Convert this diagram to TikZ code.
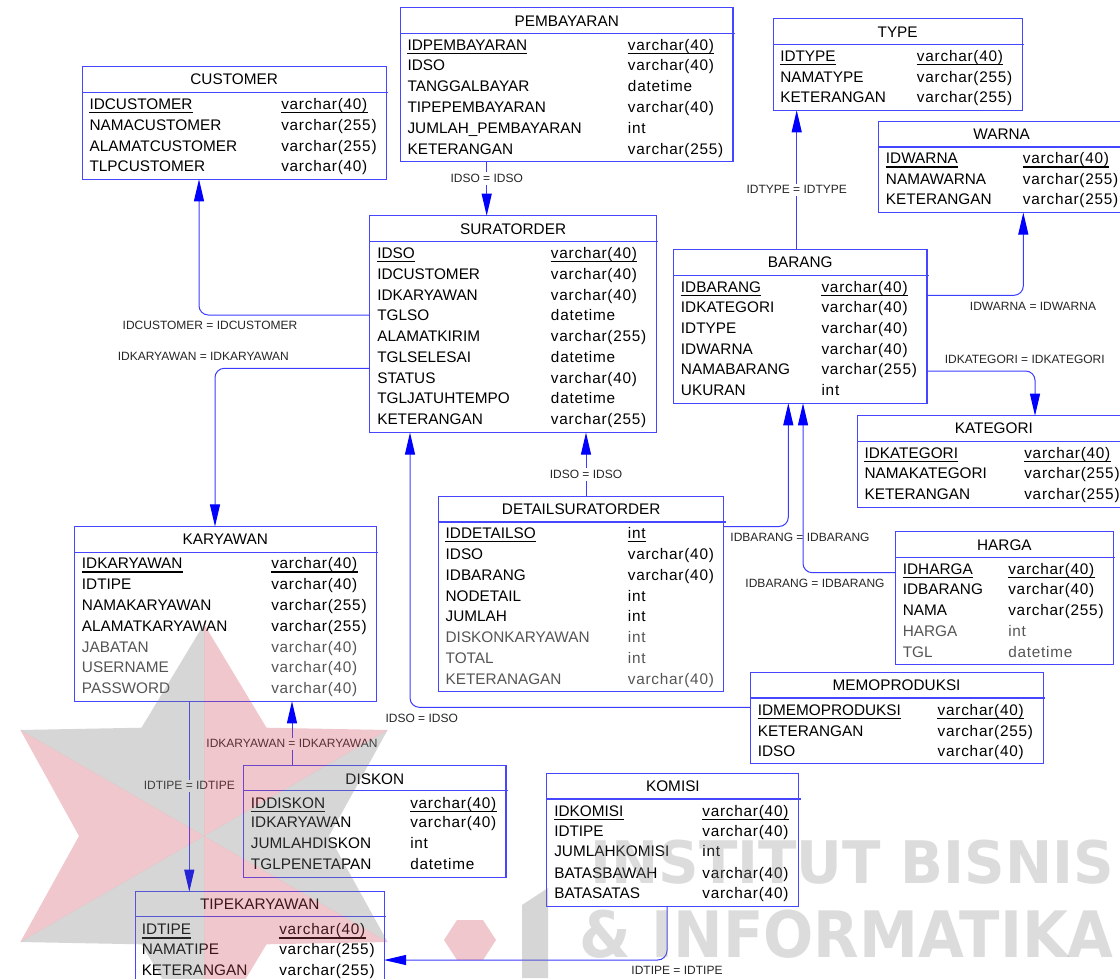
\documentclass[tikz,border=0pt]{standalone}
\usepackage{fontspec}
\setmainfont{Liberation Sans}
\newfontfamily\typefont[LetterSpace=5]{Liberation Sans}
\newfontfamily\wmfont{DejaVu Sans}
\usetikzlibrary{arrows.meta,fit}
\definecolor{lineblue}{RGB}{60,60,255}
\definecolor{boxblue}{RGB}{70,70,255}
\definecolor{arrblue}{RGB}{0,0,255}
\definecolor{rowgray}{RGB}{85,85,85}
\definecolor{wmpink}{RGB}{205,72,88}
\definecolor{wmgray}{RGB}{122,122,122}
\definecolor{wmtext}{RGB}{140,140,140}
\tikzset{
  tbox/.style={inner sep=0pt},
  hline/.style={draw=boxblue, line width=0.8pt},
  nm/.style={anchor=base west, inner sep=0pt, font=\fontsize{11.5}{12}\selectfont},
  ty/.style={anchor=base west, inner sep=0pt, font=\fontsize{11.5}{12}\selectfont\typefont},
  ttl/.style={anchor=base, inner sep=0pt, font=\fontsize{11.5}{12}\selectfont},
  lbl/.style={inner sep=1.5pt, font=\fontsize{9}{10}\selectfont, text=black!85},
  lblw/.style={lbl, fill=white},
  rel/.style={draw=lineblue, line width=0.75pt, rounded corners=7pt,
    -{Triangle[length=16.5pt,width=7.5pt,color=arrblue]}},
  ul/.style={line width=0.9pt, black},
  wm/.style={inner sep=0pt, font=\wmfont\bfseries\fontsize{44}{44}\selectfont, text=wmtext}
}
\newcommand{\ertbl}[8]{%
  \node[tbox, fit={(#2,#3) (#4,#5)}] (#1) {};
  \draw[hline] (#1.north west) rectangle (#1.south east);
  \draw[hline] (#2,#6) -- (#4+2,#6);
  \node[ttl] (#1-ttl) at ({(#2+#4)/2},#7+5.5) {#8};}
\newcommand{\ertrow}[6][black]{%
  \node[nm,text=#1] (#2-n#3) at (\colN,#4+5.5) {#5};
  \node[ty,text=#1] (#2-t#3) at (\colT,#4+5.5) {#6};}
\newcommand{\ertpk}[1]{%
  \draw[ul] ([yshift=-2.4pt]#1-n1.base west) -- ([yshift=-2.4pt]#1-n1.base east);
  \draw[ul] ([yshift=-2.4pt]#1-t1.base west) -- ([yshift=-2.4pt]#1-t1.base east);}
\begin{document}
\begin{tikzpicture}[x=0.75pt,y=-0.75pt]
\clip (0,0) rectangle (1120,978);
\fill[white] (0,0) rectangle (1120,978);

% CUSTOMER
\ertbl{customer}{82.3}{67}{386}{179}{92.3}{79.3}{CUSTOMER}
\def\colN{89.3}\def\colT{281}
\ertrow{customer}{1}{104}{IDCUSTOMER}{varchar(40)}
\ertrow{customer}{2}{124.7}{NAMACUSTOMER}{varchar(255)}
\ertrow{customer}{3}{145.7}{ALAMATCUSTOMER}{varchar(255)}
\ertrow{customer}{4}{166.3}{TLPCUSTOMER}{varchar(40)}
\ertpk{customer}

% PEMBAYARAN
\ertbl{pembayaran}{400.7}{7.7}{732.7}{161.3}{33.3}{20.7}{PEMBAYARAN}
\def\colN{407.3}\def\colT{627.7}
\ertrow{pembayaran}{1}{44.7}{IDPEMBAYARAN}{varchar(40)}
\ertrow{pembayaran}{2}{65.3}{IDSO}{varchar(40)}
\ertrow{pembayaran}{3}{85.7}{TANGGALBAYAR}{datetime}
\ertrow{pembayaran}{4}{106.7}{TIPEPEMBAYARAN}{varchar(40)}
\ertrow{pembayaran}{5}{127.7}{JUMLAH\_PEMBAYARAN}{int}
\ertrow{pembayaran}{6}{148.7}{KETERANGAN}{varchar(255)}
\ertpk{pembayaran}

% SURATORDER
\ertbl{suratorder}{370}{216}{656.3}{432.3}{241.3}{228.7}{SURATORDER}
\def\colN{377}\def\colT{550.7}
\ertrow{suratorder}{1}{252.7}{IDSO}{varchar(40)}
\ertrow{suratorder}{2}{273.7}{IDCUSTOMER}{varchar(40)}
\ertrow{suratorder}{3}{294.7}{IDKARYAWAN}{varchar(40)}
\ertrow{suratorder}{4}{315.3}{TGLSO}{datetime}
\ertrow{suratorder}{5}{335.7}{ALAMATKIRIM}{varchar(255)}
\ertrow{suratorder}{6}{356.7}{TGLSELESAI}{datetime}
\ertrow{suratorder}{7}{377.7}{STATUS}{varchar(40)}
\ertrow{suratorder}{8}{398.3}{TGLJATUHTEMPO}{datetime}
\ertrow{suratorder}{9}{419.3}{KETERANGAN}{varchar(255)}
\ertpk{suratorder}

% TYPE
\ertbl{type}{773.3}{19}{1022}{110}{44.3}{31.7}{TYPE}
\def\colN{780}\def\colT{916.7}
\ertrow{type}{1}{55.7}{IDTYPE}{varchar(40)}
\ertrow{type}{2}{76.7}{NAMATYPE}{varchar(255)}
\ertrow{type}{3}{97.3}{KETERANGAN}{varchar(255)}
\ertpk{type}

% WARNA
\ertbl{warna}{878.3}{121.7}{1125}{212.3}{147}{134.3}{WARNA}
\def\colN{885.7}\def\colT{1022.7}
\ertrow{warna}{1}{158.3}{IDWARNA}{varchar(40)}
\ertrow{warna}{2}{178.7}{NAMAWARNA}{varchar(255)}
\ertrow{warna}{3}{199.3}{KETERANGAN}{varchar(255)}
\ertpk{warna}

% BARANG
\ertbl{barang}{673.7}{249.3}{926.7}{403}{275.3}{262.3}{BARANG}
\def\colN{680.7}\def\colT{821.3}
\ertrow{barang}{1}{286.7}{IDBARANG}{varchar(40)}
\ertrow{barang}{2}{307.3}{IDKATEGORI}{varchar(40)}
\ertrow{barang}{3}{327.7}{IDTYPE}{varchar(40)}
\ertrow{barang}{4}{348.7}{IDWARNA}{varchar(40)}
\ertrow{barang}{5}{369.3}{NAMABARANG}{varchar(255)}
\ertrow{barang}{6}{390.3}{UKURAN}{int}
\ertpk{barang}

% KATEGORI
\ertbl{kategori}{857.7}{416}{1130}{507.3}{441.7}{428.3}{KATEGORI}
\def\colN{864.3}\def\colT{1024}
\ertrow{kategori}{1}{452.7}{IDKATEGORI}{varchar(40)}
\ertrow{kategori}{2}{473.3}{NAMAKATEGORI}{varchar(255)}
\ertrow{kategori}{3}{494}{KETERANGAN}{varchar(255)}
\ertpk{kategori}

% DETAILSURATORDER
\ertbl{detail}{438.8}{496.7}{723.6}{691.3}{522}{508.7}{DETAILSURATORDER}
\def\colN{445.4}\def\colT{627.6}
\ertrow{detail}{1}{532.7}{IDDETAILSO}{int}
\ertrow{detail}{2}{553.7}{IDSO}{varchar(40)}
\ertrow{detail}{3}{574.7}{IDBARANG}{varchar(40)}
\ertrow{detail}{4}{595.7}{NODETAIL}{int}
\ertrow{detail}{5}{616.3}{JUMLAH}{int}
\ertrow[rowgray]{detail}{6}{636.7}{DISKONKARYAWAN}{int}
\ertrow[rowgray]{detail}{7}{657.7}{TOTAL}{int}
\ertrow[rowgray]{detail}{8}{678.7}{KETERANAGAN}{varchar(40)}
\ertpk{detail}

% HARGA
\ertbl{harga}{895.9}{531.7}{1112.9}{664}{557.3}{544.7}{HARGA}
\def\colN{902.6}\def\colT{1008}
\ertrow{harga}{1}{569}{IDHARGA}{varchar(40)}
\ertrow{harga}{2}{589}{IDBARANG}{varchar(40)}
\ertrow{harga}{3}{609.7}{NAMA}{varchar(255)}
\ertrow[rowgray]{harga}{4}{630.7}{HARGA}{int}
\ertrow[rowgray]{harga}{5}{651.7}{TGL}{datetime}
\ertpk{harga}

% MEMOPRODUKSI
\ertbl{memo}{750.4}{672.3}{1042.8}{763.3}{698}{685.3}{MEMOPRODUKSI}
\def\colN{757.5}\def\colT{937.4}
\ertrow{memo}{1}{710}{IDMEMOPRODUKSI}{varchar(40)}
\ertrow{memo}{2}{730.7}{KETERANGAN}{varchar(255)}
\ertrow{memo}{3}{750.7}{IDSO}{varchar(40)}
\ertpk{memo}

% KOMISI
\ertbl{komisi}{547.2}{773.3}{798.6}{906}{799}{786.3}{KOMISI}
\def\colN{554}\def\colT{702.1}
\ertrow{komisi}{1}{810.7}{IDKOMISI}{varchar(40)}
\ertrow{komisi}{2}{830.7}{IDTIPE}{varchar(40)}
\ertrow{komisi}{3}{851.3}{JUMLAHKOMISI}{int}
\ertrow{komisi}{4}{872.7}{BATASBAWAH}{varchar(40)}
\ertrow{komisi}{5}{893.3}{BATASATAS}{varchar(40)}
\ertpk{komisi}

% KARYAWAN
\ertbl{karyawan}{74.3}{526.7}{376.3}{701}{552.3}{539.3}{KARYAWAN}
\def\colN{81.7}\def\colT{271}
\ertrow{karyawan}{1}{563.3}{IDKARYAWAN}{varchar(40)}
\ertrow{karyawan}{2}{584.3}{IDTIPE}{varchar(40)}
\ertrow{karyawan}{3}{604.7}{NAMAKARYAWAN}{varchar(255)}
\ertrow{karyawan}{4}{625.7}{ALAMATKARYAWAN}{varchar(255)}
\ertrow[rowgray]{karyawan}{5}{646.7}{JABATAN}{varchar(40)}
\ertrow[rowgray]{karyawan}{6}{667.3}{USERNAME}{varchar(40)}
\ertrow[rowgray]{karyawan}{7}{688.3}{PASSWORD}{varchar(40)}
\ertpk{karyawan}

% DISKON
\ertbl{diskon}{244}{765.7}{505.7}{877.3}{790.7}{778.7}{DISKON}
\def\colN{250.7}\def\colT{410}
\ertrow{diskon}{1}{802.7}{IDDISKON}{varchar(40)}
\ertrow{diskon}{2}{822.3}{IDKARYAWAN}{varchar(40)}
\ertrow{diskon}{3}{843.3}{JUMLAHDISKON}{int}
\ertrow{diskon}{4}{864.3}{TGLPENETAPAN}{datetime}
\ertpk{diskon}

% TIPEKARYAWAN
\ertbl{tipekaryawan}{135.6}{892}{383.8}{992}{916.7}{904.3}{TIPEKARYAWAN}
\def\colN{141.5}\def\colT{279}
\ertrow{tipekaryawan}{1}{929.3}{IDTIPE}{varchar(40)}
\ertrow{tipekaryawan}{2}{949.3}{NAMATIPE}{varchar(255)}
\ertrow{tipekaryawan}{3}{970}{KETERANGAN}{varchar(255)}
\ertpk{tipekaryawan}

% ---------- connectors ----------
\coordinate (c1) at (486.7,0);
\draw[rel] (pembayaran.south -| c1) -- (suratorder.north -| c1);
\node[lblw] (l1) at (486.7,178.7) {IDSO = IDSO};

\coordinate (c2) at (199,315);
\draw[rel] (suratorder.west |- c2) -- (c2) -- (customer.south -| c2);
\node[lbl] (l2) at (210,325.7) {IDCUSTOMER = IDCUSTOMER};

\coordinate (c3) at (215,368.3);
\draw[rel] (suratorder.west |- c3) -- (c3) -- (karyawan.north -| c3);
\node[lbl] (l3) at (203.3,356.7) {IDKARYAWAN = IDKARYAWAN};

\coordinate (c4) at (796.7,0);
\draw[rel] (barang.north -| c4) -- (type.south -| c4);
\node[lblw] (l4) at (796.7,189.7) {IDTYPE = IDTYPE};

\coordinate (c5) at (1023.3,295.3);
\draw[rel] (barang.east |- c5) -- (c5) -- (warna.south -| c5);
\node[lbl] (l5) at (1033,306.3) {IDWARNA = IDWARNA};

\coordinate (c6) at (1035,371);
\draw[rel] (barang.east |- c6) -- (c6) -- (kategori.north -| c6);
\node[lbl] (l6) at (1024.7,359.3) {IDKATEGORI = IDKATEGORI};

\coordinate (c7) at (586,0);
\draw[rel] (detail.north -| c7) -- (suratorder.south -| c7);
\node[lblw] (l7) at (586,474.3) {IDSO = IDSO};

\coordinate (c8) at (788.3,526.5);
\draw[rel] (detail.east |- c8) -- (c8) -- (barang.south -| c8);
\node[lbl] (l8) at (800,537.3) {IDBARANG = IDBARANG};

\coordinate (c9) at (803,572.7);
\draw[rel] (harga.west |- c9) -- (c9) -- (barang.south -| c9);
\node[lbl] (l9) at (815,583.3) {IDBARANG = IDBARANG};

\coordinate (c10) at (410,707.3);
\draw[rel] (memo.west |- c10) -- (c10) -- (suratorder.south -| c10);
\node[lbl] (l10) at (421.7,718.3) {IDSO = IDSO};

\coordinate (c11) at (292,0);
\draw[rel] (diskon.north -| c11) -- (karyawan.south -| c11);
\node[lblw] (l11) at (292,743.7) {IDKARYAWAN = IDKARYAWAN};

\coordinate (c12) at (189.3,0);
\draw[rel] (karyawan.south -| c12) -- (tipekaryawan.north -| c12);
\node[lblw] (l12) at (189.3,785.7) {IDTIPE = IDTIPE};

\coordinate (c13) at (667,960);
\draw[rel] (komisi.south -| c13) -- (c13) -- (tipekaryawan.east |- c13);
\node[lbl] (l13) at (677,970.5) {IDTIPE = IDTIPE};

% ---------- watermark ----------
\begin{scope}[opacity=0.3]
  \fill[wmgray] (204,836) -- (387.6,730) -- (329,836) -- (387.6,942) -- cycle;
  \fill[wmpink] (204,836) -- (387.6,730) -- (266.5,727.7) -- (204,624) -- cycle;
  \fill[wmgray] (204,836) -- (204,624) -- (141.5,727.7) -- (20.4,730) -- cycle;
  \fill[wmpink] (204,836) -- (20.4,730) -- (79,836) -- (20.4,942) -- cycle;
  \fill[wmgray] (204,836) -- (20.4,942) -- (141.5,944.3) -- (204,1048) -- cycle;
  \fill[wmpink] (204,836) -- (204,1048) -- (266.5,944.3) -- (387.6,942) -- cycle;
  \fill[wmpink] (444,940) -- (457,920) -- (483,920) -- (496,940) -- (483,960) -- (457,960) -- cycle;
  \fill[wmgray] (522,905) -- (548,888) -- (548,978) -- (522,978) -- cycle;
  \node[wm, anchor=base east] (wm1) at (1114,883) {\scalebox{0.96}[1]{INSTITUT BISNIS}};
  \node[wm, anchor=base east, font=\wmfont\bfseries\fontsize{48}{48}\selectfont] (wm2) at (1114,957) {\scalebox{0.925}[1]{\& INFORMATIKA}};
\end{scope}
\end{tikzpicture}
\end{document}
